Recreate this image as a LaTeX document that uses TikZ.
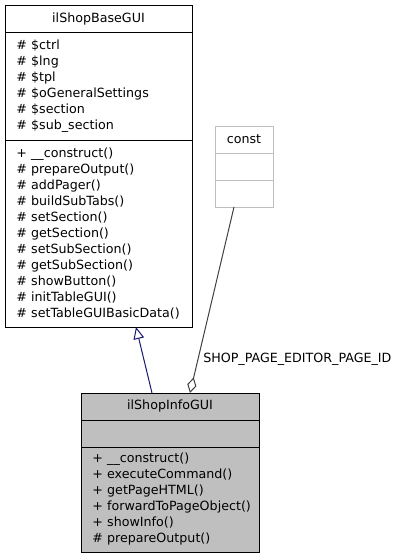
\documentclass[tikz,border=0pt]{standalone}
\usepackage{fontspec}
\setmainfont{DejaVu Sans}
\usepackage{tikz}
\usetikzlibrary{arrows.meta, positioning, calc}

\definecolor{edgenavy}{RGB}{25,25,112}
\definecolor{edgegrey}{RGB}{64,64,64}
\definecolor{boxgrey}{RGB}{191,191,191}

\newcommand{\umlfont}{\fontsize{9.5}{12}\selectfont\hyphenpenalty=10000\relax\hbadness=10000\relax}

\tikzset{
    classpart/.style={draw=black, line width=0.75pt, anchor=north,
        inner xsep=8.5pt, inner ysep=0pt, outer sep=0pt, font=\umlfont},
    titlepart/.style={classpart, align=center, minimum height=20.25pt},
    listpart/.style={classpart, align=left},
    constpart/.style={classpart, draw=boxgrey, text width=35pt,
        inner xsep=4.25pt, align=center, minimum height=20.25pt},
    inherit/.style={edgenavy, line width=0.75pt,
        -{Triangle[open, length=9pt, width=8pt, fill=white]}},
    aggreg/.style={edgegrey, line width=0.75pt,
        {Diamond[open, length=12pt, width=7pt, fill=white]}-},
}

\begin{document}
\begin{tikzpicture}[x=0.75pt, y=-0.75pt]

    \useasboundingbox (0,0) rectangle (401,560);

    % ============================================================
    % BASE CLASS
    % ============================================================
    \node[titlepart, text width=123.25pt] (baseT) at (98.5,6) {ilShopBaseGUI};
    \node[listpart, text width=123.25pt, minimum height=80.25pt,
          below=0pt of baseT] (baseA)
        {\#~\$ctrl\\ \#~\$lng\\ \#~\$tpl\\ \#~\$oGeneralSettings\\
         \#~\$section\\ \#~\$sub\_section};
    \node[listpart, text width=123.25pt, minimum height=140.25pt,
          below=0pt of baseA] (baseO)
        {+~\_\_construct()\\ \#~prepareOutput()\\ \#~addPager()\\
         \#~buildSubTabs()\\ \#~setSection()\\ \#~getSection()\\
         \#~setSubSection()\\ \#~getSubSection()\\ \#~showButton()\\
         \#~initTableGUI()\\ \#~setTableGUIBasicData()};

    % ============================================================
    % CONST
    % ============================================================
    \node[constpart] (constT) at (244,126) {const};
    \node[constpart, below=0pt of constT] (constA) {};
    \node[constpart, below=0pt of constA] (constO) {};

    % ============================================================
    % DERIVED CLASS
    % ============================================================
    \node[titlepart, fill=boxgrey, text width=116.5pt] (infoT) at (170,393)
        {ilShopInfoGUI};
    \node[listpart, fill=boxgrey, text width=116.5pt, minimum height=20.25pt,
          below=0pt of infoT] (infoA) {};
    \node[listpart, fill=boxgrey, text width=116.5pt, minimum height=78.75pt,
          below=0pt of infoA] (infoO)
        {+~\_\_construct()\\ +~executeCommand()\\ +~getPageHTML()\\
         +~forwardToPageObject()\\ +~showInfo()\\ \#~prepareOutput()};

    % ============================================================
    % EDGES
    % ============================================================
    \draw[inherit] ($(infoT.north)+(-18,0)$) -- ($(baseO.south)+(37.5,0)$);
    \draw[aggreg] ($(infoT.north)+(20,0)$) -- ($(constO.south)+(-10,0)$);
    \node[anchor=west, inner sep=0pt, font=\umlfont]
        (lblPageId) at (203,359) {SHOP\_PAGE\_EDITOR\_PAGE\_ID};

\end{tikzpicture}
\end{document}
